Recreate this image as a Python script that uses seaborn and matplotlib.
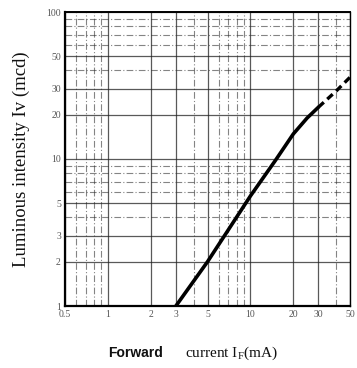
import matplotlib
matplotlib.use("Agg")
import matplotlib.pyplot as plt
import seaborn as sns
import pandas as pd
from matplotlib.ticker import FixedLocator, NullFormatter

# Data
current_solid = [3, 5, 10, 15, 20, 25, 30]
intensity_solid = [1, 2, 5.6, 9.8, 14.8, 19, 22.5]
current_dashed = [30, 40, 50]
intensity_dashed = [22.5, 29, 36]

x_ticks = [0.5, 1, 2, 3, 5, 10, 20, 30, 50]
x_tick_labels = ["0.5", "1", "2", "3", "5", "10", "20", "30", "50"]
y_ticks = [1, 2, 3, 5, 10, 20, 30, 50, 100]
y_tick_labels = ["1", "2", "3", "5", "10", "20", "30", "50", "100"]
x_minor = [0.6, 0.7, 0.8, 0.9, 4, 6, 7, 8, 9, 40]
y_minor = [4, 6, 7, 8, 9, 40, 60, 70, 80, 90]

sns.set_theme(style="white")
plt.rcParams['font.family'] = ['Liberation Serif', 'DejaVu Serif']

fig = plt.figure(figsize=(3.57, 3.68), dpi=100)
ax = fig.add_axes([65/357, 1-306/368, (350-65)/357, (306-12)/368])

df_s = pd.DataFrame({"x": current_solid, "y": intensity_solid})
df_d = pd.DataFrame({"x": current_dashed, "y": intensity_dashed})
sns.lineplot(data=df_s, x="x", y="y", ax=ax, color="black", linewidth=2.6, sort=False, zorder=5)
sns.lineplot(data=df_d, x="x", y="y", ax=ax, color="black", linewidth=2.4, sort=False,
             linestyle=(0, (2.2, 1.4)), zorder=5)

ax.set_xscale("log")
ax.set_yscale("log")
ax.set_xlim(0.5, 50)
ax.set_ylim(1, 100)

ax.xaxis.set_major_locator(FixedLocator(x_ticks))
ax.set_xticklabels(x_tick_labels)
ax.yaxis.set_major_locator(FixedLocator(y_ticks))
ax.set_yticklabels(y_tick_labels)
ax.xaxis.set_minor_locator(FixedLocator(x_minor))
ax.yaxis.set_minor_locator(FixedLocator(y_minor))
ax.xaxis.set_minor_formatter(NullFormatter())
ax.yaxis.set_minor_formatter(NullFormatter())

ax.grid(which="major", color="#222222", linewidth=0.9, linestyle="-", alpha=0.75)
ax.grid(which="minor", color="#333333", linewidth=0.8, linestyle=(0, (6, 2, 1, 2)), alpha=0.6)

ax.tick_params(axis="both", which="both", length=0, labelsize=7, labelcolor="#555555", pad=3)
for s in ax.spines.values():
    s.set_visible(True)
    s.set_color("black")
    s.set_linewidth(1.0)
ax.spines["left"].set_linewidth(1.6)
ax.spines["bottom"].set_linewidth(1.6)
ax.spines["top"].set_linewidth(1.4)

ax.set_xlabel("")
ax.set_ylabel("Luminous intensity Iv (mcd)", fontsize=13.5, labelpad=12, color="#111111")

fig.text(108/357, 1-357/368, "Forward", fontsize=10, fontweight="bold",
         family=["Liberation Sans", "DejaVu Sans"], ha="left", va="baseline", color="#111111")
fig.text(185/357, 1-357/368, r"current I$_\mathregular{F}$(mA)", fontsize=11,
         ha="left", va="baseline", color="#111111")

fig.savefig("out.png", dpi=100)
